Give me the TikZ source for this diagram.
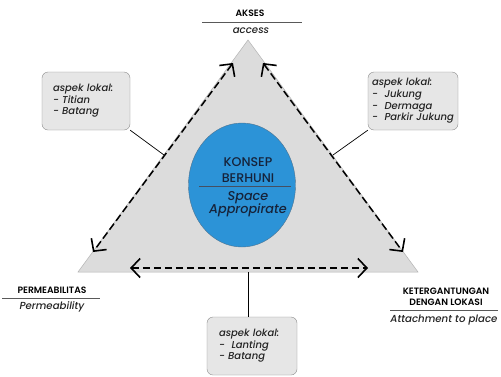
\documentclass[tikz,border=0pt]{standalone}
\usepackage{fontspec}
\setmainfont{Poppins}[UprightFont=* Medium, ItalicFont=* Medium Italic, BoldFont=* SemiBold]
\usepackage{xcolor}
\usepackage{tikz}
\usetikzlibrary{arrows.meta, shapes.geometric, calc}
\definecolor{trifill}{HTML}{DCDCDC}
\definecolor{triedge}{HTML}{B4B4B4}
\definecolor{boxfill}{HTML}{E6E6E6}
\definecolor{boxedge}{HTML}{8C8C8C}
\definecolor{konsepblue}{HTML}{2C93D7}
\definecolor{konsepedge}{HTML}{4E7390}
\definecolor{konseptext}{HTML}{16233A}
\definecolor{textgray}{HTML}{222222}

\begin{document}
\begin{tikzpicture}[x=1pt, y=-1pt]
	\tikzstyle{lokal}=[draw=boxedge, fill=boxfill, rounded corners=6pt, minimum height=58pt, align=left, text=textgray, font=\fontsize{10}{11.6}\selectfont\itshape]
	\tikzstyle{panah}=[line width=1.5pt, dash pattern=on 7.5pt off 3.5pt, {Straight Barb[length=9pt, width=19pt, line width=1.6pt]}-{Straight Barb[length=9pt, width=19pt, line width=1.6pt]}]
	\tikzstyle{judul}=[text=black, font=\fontsize{9.2}{11.5}\selectfont\bfseries, align=center, inner sep=0pt]
	\tikzstyle{arti}=[text=textgray, font=\fontsize{10.2}{12}\selectfont\itshape, inner sep=0pt]
	\tikzstyle{garis}=[draw=black!65, line width=0.6pt]

	\useasboundingbox (0,0) rectangle (501,376);
	\fill[white] (0,0) rectangle (501,376);

	% segitiga
	\coordinate (top) at (248,40);
	\coordinate (kiri) at (78,272);
	\coordinate (kanan) at (418,272);
	\filldraw[fill=trifill, draw=triedge, line width=0.5pt] (top) -- (kiri) -- (kanan) -- cycle;

	% panah putus-putus
	\coordinate (a1) at (233,63);
	\coordinate (a2) at (93,252);
	\coordinate (a3) at (263,63);
	\coordinate (a4) at (403,252);
	\coordinate (a5) at (130,268);
	\coordinate (a6) at (368,268);
	\draw[panah] (a1) -- (a2);
	\draw[panah] (a3) -- (a4);
	\draw[panah] (a5) -- (a6);

	% konsep
	\node (konsep) at (242,185) [ellipse, minimum width=107pt, minimum height=124pt, fill=konsepblue, draw=konsepedge, line width=0.4pt] {};
	\node (k01) at (248,170) [text=konseptext, align=center, inner sep=0pt, font=\fontsize{12.6}{16}\selectfont] {KONSEP\\BERHUNI};
	\coordinate (g1) at (199,186);
	\coordinate (g2) at (291,186);
	\draw[konseptext!80, line width=0.5pt] (g1) -- (g2);
	\node (k02) at (248,204) [text=konseptext, align=center, inner sep=0pt, font=\fontsize{12.8}{13.5}\selectfont\itshape] {Space\\Appropirate};

	% label sudut
	\node (akses) at (250,13) [judul] {AKSES};
	\coordinate (ak1) at (202,22);
	\coordinate (ak2) at (302,22);
	\draw[garis] (ak1) -- (ak2);
	\node (access) at (251,31) [arti] {access};

	\node (perm) at (52,290) [judul] {PERMEABILITAS};
	\coordinate (pm1) at (2,298);
	\coordinate (pm2) at (100,298);
	\draw[garis] (pm1) -- (pm2);
	\node (permb) at (52,307) [arti] {Permeability};

	\node (keter) at (446,297) [judul] {KETERGANTUNGAN\\DENGAN LOKASI};
	\coordinate (kt1) at (390,310);
	\coordinate (kt2) at (498,310);
	\draw[garis] (kt1) -- (kt2);
	\node (attach) at (444,320) [arti] {Attachment to place};

	% aspek lokal
	\node (lkiri) at (86,101) [lokal, minimum width=88pt, text width=66pt, inner xsep=11pt] {aspek lokal:\\- Titian\\- Batang};
	\node (lkanan) at (413,101) [lokal, minimum width=90pt, text width=82pt, inner xsep=4pt] {aspek lokal:\\- \ Jukung\\- \ Dermaga\\- \ Parkir Jukung};
	\node (lbawah) at (252,346) [lokal, minimum width=90pt, text width=66pt, inner xsep=12pt] {aspek lokal:\\- \ Lanting\\- Batang};

	\coordinate (s1) at (164,155);
	\coordinate (s2) at (333,155);
	\coordinate (s3) at (248,272);
	\draw[line width=0.7pt] (lkiri.south east) -- (s1);
	\draw[line width=0.7pt] (lkanan.south west) -- (s2);
	\draw[line width=0.7pt] (s3) -- (s3 |- lbawah.north);
\end{tikzpicture}
\end{document}
